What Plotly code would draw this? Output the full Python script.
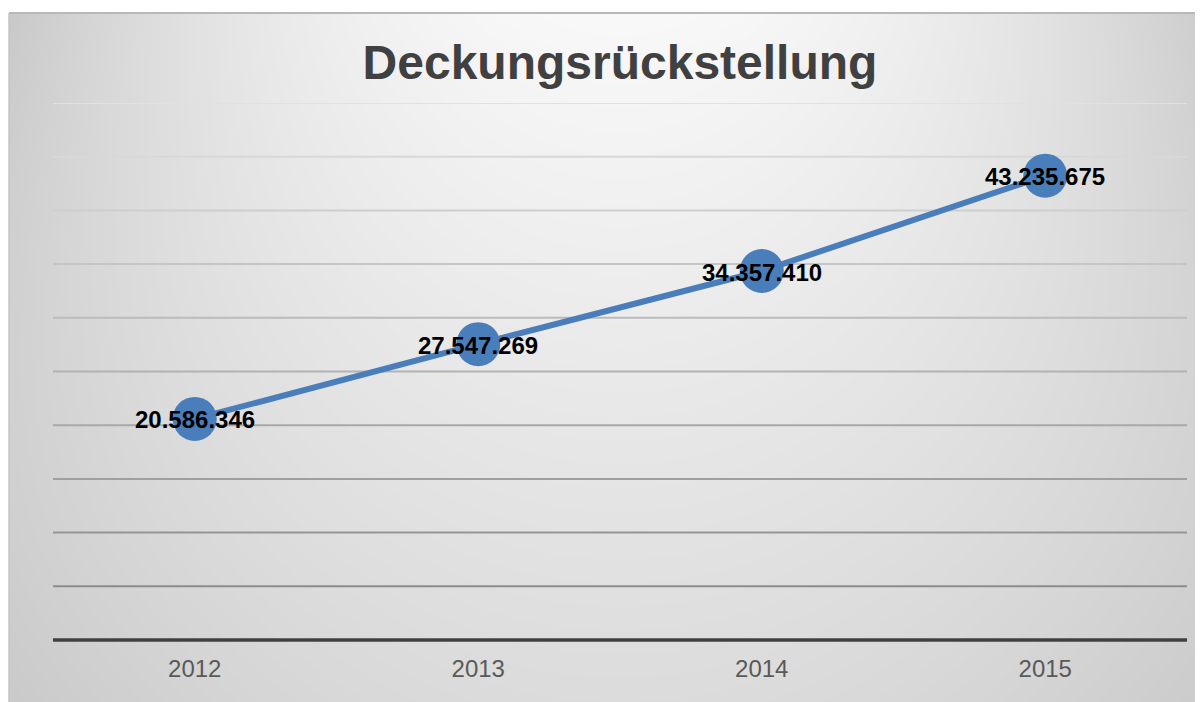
import base64, struct, zlib
import numpy as np
import plotly.graph_objects as go

# ---- data ----
years = ["2012", "2013", "2014", "2015"]
values = [20586346, 27547269, 34357410, 43235675]
title_text = "Deckungsrückstellung"
y_max = 50_000_000
y_step = 5_000_000

# ---- geometry: reference pixel -> figure pixel (page body has an 8px margin) ----
OFF = 8
W, H = 1195, 694
PLOT_L, PLOT_R, PLOT_T, PLOT_B = 53, 1187, 103, 640
L, R, T, B = PLOT_L - OFF, W - (PLOT_R - OFF), PLOT_T - OFF, H - (PLOT_B - OFF)
PW, PH = W - L - R, H - T - B


def px2paper_x(px):  # px in reference coordinates
    return (px - OFF - L) / PW


def px2paper_y(py):
    return (H - B - (py - OFF)) / PH


# ---- background gradient image ----
def gray_png_uri(arr):
    h, w = arr.shape
    raw = b"".join(b"\x00" + arr[i].tobytes() for i in range(h))

    def chunk(tag, data):
        c = struct.pack(">I", len(data)) + tag + data
        return c + struct.pack(">I", zlib.crc32(tag + data) & 0xFFFFFFFF)

    png = b"\x89PNG\r\n\x1a\n"
    png += chunk(b"IHDR", struct.pack(">IIBBBBB", w, h, 8, 0, 0, 0, 0))
    png += chunk(b"IDAT", zlib.compress(raw, 9))
    png += chunk(b"IEND", b"")
    return "data:image/png;base64," + base64.b64encode(png).decode()


bx0, bx1, by0, by1 = 9, 1203, 13, 702
gw, gh = (bx1 - bx0), (by1 - by0)
xs = np.arange(gw) + bx0 + 0.5
ys = np.arange(gh) + by0 + 0.5
X, Y = np.meshgrid(xs, ys)
dx = (X - 620) / 611.0
t = np.clip((Y - 13) / 689.0, 0, 1)
center = 249 - 29 * t
drop = 18 + 30 * (1 - t) ** 2
img = np.clip(center - drop * dx ** 2, 0, 255).astype(np.uint8)
bg_uri = gray_png_uri(img)

fig = go.Figure()
fig.add_trace(go.Scatter(
    x=years, y=values, mode="lines+markers",
    line=dict(color="#4a7ebb", width=6),
    marker=dict(color="#4a7ebb", size=44, line=dict(width=0)),
    hoverinfo="skip", cliponaxis=False, showlegend=False,
))

# data labels (category axis -> annotation x is the category index)
annotations = [
    dict(x=i, y=v, xref="x", yref="y", text=f"{v:,}".replace(",", "."),
         showarrow=False, xanchor="center", yanchor="middle", yshift=-1,
         font=dict(family="Arial, Liberation Sans", size=24, color="#000000", weight="bold"))
    for i, v in enumerate(values)
]

shapes = []
# gridlines with colour fading from light (top) to darker (bottom)
n = y_max // y_step
for k in range(1, n + 1):
    v = k * y_step
    frac = (k - 1) / (n - 1)
    c = int(round(140 + (225 - 140) * frac))
    shapes.append(dict(type="line", xref="paper", yref="y", x0=0, x1=1, y0=v, y1=v,
                       line=dict(color=f"rgb({c},{c},{c})", width=2), layer="below"))
# baseline (at the bottom of the plot area, i.e. value 0; paper ref so it is not clipped)
shapes.append(dict(type="line", xref="paper", yref="paper", x0=0, x1=1, y0=0, y1=0,
                   line=dict(color="#404040", width=3.5), layer="below"))
# chart border (top and left edges visible)
shapes.append(dict(type="line", xref="paper", yref="paper",
                   x0=px2paper_x(bx0), x1=px2paper_x(1260),
                   y0=px2paper_y(by0), y1=px2paper_y(by0),
                   line=dict(color="#b8b8b8", width=2), layer="below"))
shapes.append(dict(type="line", xref="paper", yref="paper",
                   x0=px2paper_x(bx0), x1=px2paper_x(bx0),
                   y0=px2paper_y(by0), y1=px2paper_y(760),
                   line=dict(color="#c4c4c4", width=1.5), layer="below"))

fig.update_layout(
    width=W, height=H,
    margin=dict(l=L, r=R, t=T, b=B),
    paper_bgcolor="white", plot_bgcolor="rgba(0,0,0,0)",
    title=dict(text=title_text, xref="container", yref="container",
               x=(620 - OFF) / W, xanchor="center", y=1 - (62 - OFF) / H, yanchor="middle",
               font=dict(family="Arial, Liberation Sans", size=48, color="#404040", weight="bold")),
    xaxis=dict(type="category", range=[-0.5, len(years) - 0.5], showgrid=False, zeroline=False,
               showline=False, ticks="", ticklabelstandoff=12,
               tickfont=dict(family="Arial, Liberation Sans", size=24, color="#595959")),
    yaxis=dict(range=[0, y_max], showgrid=False, zeroline=False, showline=False,
               showticklabels=False, ticks=""),
    shapes=shapes,
    annotations=annotations,
    images=[dict(source=bg_uri, xref="paper", yref="paper",
                 x=px2paper_x(bx0), y=px2paper_y(by0),
                 sizex=gw / PW, sizey=gh / PH, xanchor="left", yanchor="top",
                 sizing="stretch", layer="below")],
)

fig.write_html("out.html")
